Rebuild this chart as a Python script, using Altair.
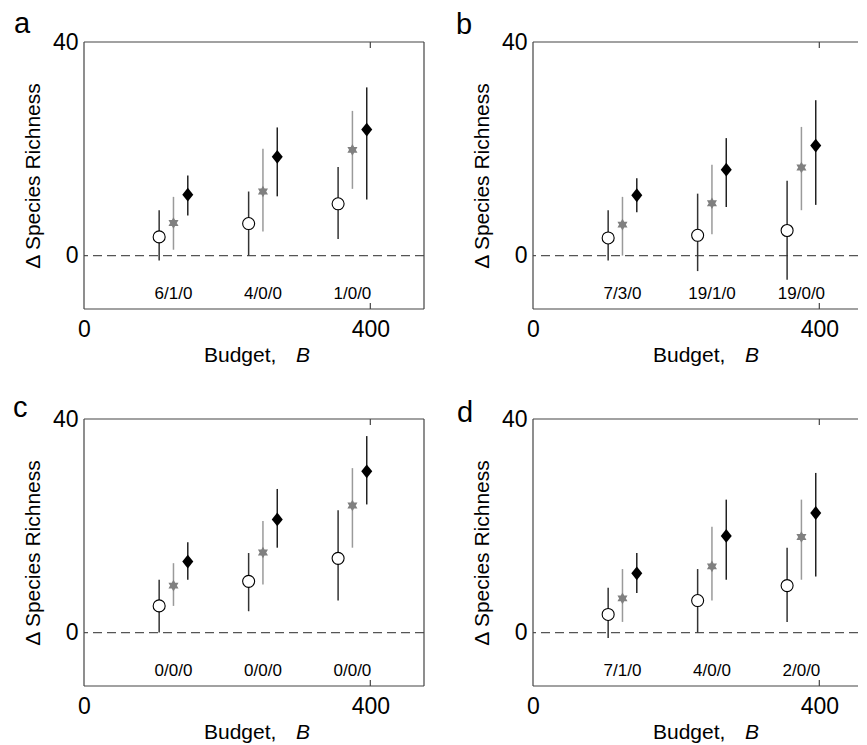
import altair as alt
import pandas as pd

FONT = "Liberation Sans"
FRAME = "#444444"
HEIGHT = 267

budgets = [125, 250, 375]
series_names = ["circle", "star", "diamond"]
dodge = {"circle": -20, "star": 0, "diamond": 20}

# (mean, lower, upper) for each budget
a_circle = [(3.5, -0.9, 8.5), (6.0, 0.0, 12.0), (9.7, 3.1, 16.6)]
a_star = [(6.1, 1.1, 11.0), (12.0, 4.5, 20.0), (19.8, 12.5, 27.1)]
a_diamond = [(11.4, 7.5, 15.0), (18.5, 11.1, 24.0), (23.6, 10.5, 31.5)]
a_labels = ["6/1/0", "4/0/0", "1/0/0"]

b_circle = [(3.3, -0.9, 8.5), (3.8, -2.9, 11.6), (4.7, -4.5, 14.0)]
b_star = [(5.8, 0.0, 11.0), (9.8, 4.0, 17.0), (16.5, 8.5, 24.1)]
b_diamond = [(11.3, 8.1, 14.5), (16.1, 9.1, 22.0), (20.6, 9.5, 29.1)]
b_labels = ["7/3/0", "19/1/0", "19/0/0"]

c_circle = [(5.0, 0.0, 9.9), (9.6, 4.0, 14.9), (13.9, 6.0, 22.9)]
c_star = [(8.8, 5.0, 13.0), (15.0, 9.0, 20.9), (23.8, 15.9, 30.8)]
c_diamond = [(13.3, 9.9, 16.9), (21.2, 15.9, 26.9), (30.2, 24.0, 36.8)]
c_labels = ["0/0/0", "0/0/0", "0/0/0"]

d_circle = [(3.4, -1.0, 8.4), (6.0, 0.0, 11.9), (8.8, 2.0, 15.9)]
d_star = [(6.4, 2.0, 11.9), (12.4, 6.0, 19.8), (17.9, 9.9, 24.9)]
d_diamond = [(11.1, 7.4, 14.9), (18.1, 9.9, 24.9), (22.4, 10.5, 29.9)]
d_labels = ["7/1/0", "4/0/0", "2/0/0"]

HEX = "M0,-1L0.866,0.5L-0.866,0.5Z M0,1L-0.866,-0.5L0.866,-0.5Z"
DIAMOND = "M0,-1L0.8,0L0,1L-0.8,0Z"


def panel(letter, circle, star, diamond, labels, width, xmax, full_frame, ldx, ldy):
    rows = []
    for name, vals in zip(series_names, [circle, star, diamond]):
        for b, (m, lo, hi) in zip(budgets, vals):
            rows.append({"series": name, "B": b + dodge[name], "mean": m, "lo": lo, "hi": hi})
    df = pd.DataFrame(rows)
    lab_df = pd.DataFrame({"B": budgets, "label": labels})
    one = pd.DataFrame({"k": [0]})

    xs = alt.Scale(domain=[0, xmax], nice=False, zero=False)
    ys = alt.Scale(domain=[-10, 40], nice=False, zero=False)
    xax = alt.Axis(values=[0, 400], title=None, grid=False, domain=False, ticks=False,
                   tickSize=0, labelFontSize=23, labelFont=FONT, labelColor="black",
                   labelPadding=9, labelFlush=False, labelAngle=0, format="d")
    yax = alt.Axis(values=[0, 40], title="Δ Species Richness", grid=False, domain=False,
                   ticks=False, tickSize=0, labelFontSize=23, labelFont=FONT,
                   labelColor="black", labelPadding=6, labelFlush=False, format="d",
                   titleFontSize=21, titleFont=FONT, titleFontWeight="normal",
                   titleColor="black", titlePadding=9)

    def X(f):
        return alt.X(f, type="quantitative", scale=xs, axis=xax)

    def Y(f):
        return alt.Y(f, type="quantitative", scale=ys, axis=yax)

    base = alt.Chart(df)
    zero = alt.Chart(one).mark_rule(color="#555555", strokeWidth=1.2, strokeDash=[9, 5]).encode(
        y=alt.YDatum(0, type="quantitative", scale=ys, axis=yax)
    )
    err = base.mark_rule(strokeWidth=1.5).encode(
        x=X("B"), y=Y("lo"), y2="hi",
        color=alt.Color("series:N", scale=alt.Scale(domain=series_names,
                                                    range=["#333333", "#9a9a9a", "#222222"]),
                        legend=None),
    )
    circ = base.transform_filter(alt.datum.series == "circle").mark_point(
        shape="circle", size=144, filled=False, fill="white", fillOpacity=1,
        stroke="black", strokeWidth=1.1, opacity=1
    ).encode(x=X("B"), y=Y("mean"))
    st = base.transform_filter(alt.datum.series == "star").mark_point(
        shape=HEX, size=135, filled=True, fill="#808080", fillOpacity=1,
        strokeWidth=0, opacity=1
    ).encode(x=X("B"), y=Y("mean"))
    dia = base.transform_filter(alt.datum.series == "diamond").mark_point(
        shape=DIAMOND, size=190, filled=True, fill="black", fillOpacity=1,
        strokeWidth=0, opacity=1
    ).encode(x=X("B"), y=Y("mean"))
    labs = alt.Chart(lab_df).mark_text(fontSize=17, font=FONT, color="black").encode(
        x=X("B"), y=alt.YDatum(-7.2, type="quantitative", scale=ys, axis=yax), text="label:N"
    )

    fr = alt.Chart(one).mark_rule(color=FRAME, strokeWidth=1.2)
    frames = [
        fr.encode(x=alt.value(0), x2=alt.value(width), y=alt.value(0)),
        fr.encode(x=alt.value(0), x2=alt.value(width), y=alt.value(HEIGHT)),
        fr.encode(x=alt.value(0), y=alt.value(0), y2=alt.value(HEIGHT)),
        fr.encode(x=alt.XDatum(400, type="quantitative", scale=xs, axis=xax),
                  y=alt.value(HEIGHT - 6), y2=alt.value(HEIGHT)),
        fr.encode(x=alt.XDatum(400, type="quantitative", scale=xs, axis=xax),
                  y=alt.value(0), y2=alt.value(6)),
    ]
    if full_frame:
        frames.append(fr.encode(x=alt.value(width), y=alt.value(0), y2=alt.value(HEIGHT)))

    t = alt.Chart(one)
    texts = [
        t.mark_text(align="left", baseline="alphabetic", fontSize=29, font=FONT, color="black").encode(
            x=alt.value(ldx), y=alt.value(ldy), text=alt.value(letter)),
        t.mark_text(align="left", baseline="alphabetic", fontSize=21, font=FONT, color="black").encode(
            x=alt.value(120), y=alt.value(HEIGHT + 53), text=alt.value("Budget,")),
        t.mark_text(align="left", baseline="alphabetic", fontSize=21, font=FONT, color="black",
                    fontStyle="italic").encode(
            x=alt.value(212), y=alt.value(HEIGHT + 53), text=alt.value("B")),
    ]

    return alt.layer(zero, err, circ, st, dia, labs, *frames, *texts).properties(
        width=width, height=HEIGHT
    )


W_LEFT = 340
W_RIGHT = 325
XMAX_LEFT = 475
XMAX_RIGHT = 475 * W_RIGHT / W_LEFT

pa = panel("a", a_circle, a_star, a_diamond, a_labels, W_LEFT, XMAX_LEFT, True, -70, -9)
pb = panel("b", b_circle, b_star, b_diamond, b_labels, W_RIGHT, XMAX_RIGHT, False, -77, -8)
pc = panel("c", c_circle, c_star, c_diamond, c_labels, W_LEFT, XMAX_LEFT, True, -71, -2)
pd_ = panel("d", d_circle, d_star, d_diamond, d_labels, W_RIGHT, XMAX_RIGHT, False, -76, 3)

chart = alt.concat(
    pa, pb, pc, pd_, columns=2,
    spacing=alt.RowColnumber(row=110, column=109), bounds="flush"
).properties(
    padding={"left": 5, "top": 2, "right": 0, "bottom": 0},
    background="white",
).configure_view(strokeWidth=0)

chart.save("out.html", embed_options={"renderer": "svg", "actions": False})
